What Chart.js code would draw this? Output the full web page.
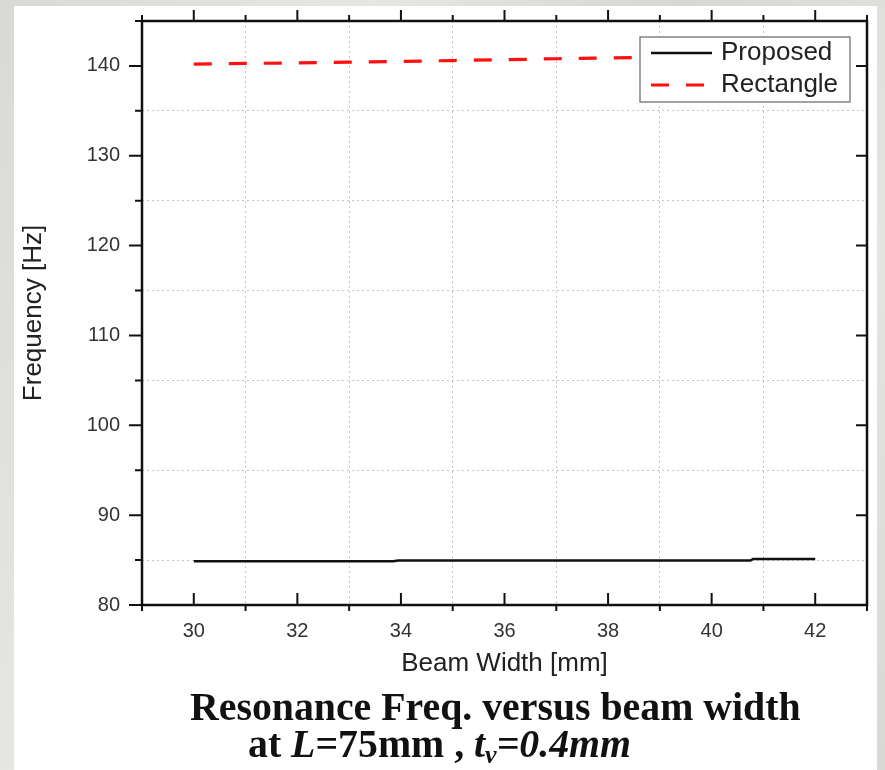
<!DOCTYPE html>
<html>
<head>
<meta charset="utf-8">
<script src="https://cdn.jsdelivr.net/npm/chart.js@4/dist/chart.umd.min.js"></script>
<style>
  html, body { margin: 0; padding: 0; }
  body {
    width: 885px; height: 770px; overflow: hidden; position: relative;
    background: linear-gradient(115deg, #d9d9d5 0%, #e6e6e2 30%, #d6d6d2 55%, #e4e4e0 80%, #d8d8d4 100%);
  }
  #panel { position: absolute; left: 14px; top: 6px; width: 863px; height: 764px; background: #fff; }
  #wrap { position: absolute; left: 0; top: 0; width: 885px; height: 690px; }
  .cap {
    position: absolute; font-family: "Liberation Serif", "Times New Roman", serif;
    font-weight: bold; font-size: 39.8px; color: #111; white-space: nowrap; line-height: 1;
  }
  .cap i { font-style: italic; }
  .cap sub { font-size: 26px; vertical-align: -6px; line-height: 0; }
</style>
</head>
<body>
<div id="panel"></div>
<div id="wrap"><canvas id="freqChart" width="885" height="690"></canvas></div>
<div class="cap" style="left:190px; top:688px;">Resonance Freq. versus beam width</div>
<div class="cap" style="left:248px; top:725px;">at <i>L</i>=75mm , <i>t<sub>v</sub>=0.4mm</i></div>

<script>
// beam width sweep [mm] and resonance frequency [Hz]
const rectWidth = [30, 31, 32, 33, 34, 35, 36, 37, 38, 39, 40, 41, 42];
const rectHz = [140.2, 140.28, 140.33, 140.43, 140.5, 140.6, 140.69, 140.8, 140.89, 140.95, 141.02, 141.1, 141.18];
const propWidth = [30, 33.85, 33.95, 40.75, 40.8, 42];
const propHz = [84.87, 84.87, 84.95, 84.95, 85.12, 85.12];
const seriesNames = ['Proposed', 'Rectangle'];

const FONT = '"Liberation Sans", Arial, sans-serif';

const toPoints = (xs, ys) => xs.map((v, i) => ({ x: v, y: ys[i] }));

// box frame with origin-style ticks (majors labelled, minors carry the grid)
const frameTicks = {
    id: 'frameTicks',
    afterDatasetsDraw(chart) {
        const { ctx, chartArea: a, scales: { x, y } } = chart;
        ctx.save();
        ctx.strokeStyle = '#111';
        ctx.lineWidth = 2.5;
        ctx.strokeRect(a.left, a.top, a.right - a.left, a.bottom - a.top);

        ctx.lineWidth = 2;
        ctx.beginPath();
        x.ticks.forEach(t => {
            const px = x.getPixelForValue(t.value);
            const major = t.value % 2 === 0;
            if (major) {
                ctx.moveTo(px, a.bottom); ctx.lineTo(px, a.bottom - 12);
                ctx.moveTo(px, a.top); ctx.lineTo(px, a.top - 11);
            } else {
                ctx.moveTo(px, a.bottom); ctx.lineTo(px, a.bottom + 6);
                ctx.moveTo(px, a.top); ctx.lineTo(px, a.top - 6);
            }
        });
        y.ticks.forEach(t => {
            const py = y.getPixelForValue(t.value);
            const major = t.value % 10 === 0;
            ctx.moveTo(a.left, py); ctx.lineTo(a.left - (major ? 13 : 7), py);
            if (major) { ctx.moveTo(a.right, py); ctx.lineTo(a.right - 11, py); }
        });
        ctx.stroke();

        // legend box in the upper right corner
        const bx = 640, by = 37, bw = 210, bh = 65;
        ctx.fillStyle = '#fff';
        ctx.fillRect(bx, by, bw, bh);
        ctx.strokeStyle = '#666';
        ctx.lineWidth = 1.2;
        ctx.strokeRect(bx, by, bw, bh);
        ctx.font = '26px ' + FONT;
        ctx.fillStyle = '#222';
        ctx.textBaseline = 'middle';
        chart.data.datasets.forEach((ds, i) => {
            const ly = by + 16 + i * 32;
            ctx.strokeStyle = ds.borderColor;
            ctx.lineWidth = ds.borderWidth;
            ctx.setLineDash(ds.borderDash || []);
            ctx.beginPath();
            ctx.moveTo(bx + 11, ly);
            ctx.lineTo(bx + 72, ly);
            ctx.stroke();
            ctx.setLineDash([]);
            ctx.fillText(ds.label, bx + 81, ly);
        });
        ctx.restore();
    }
};

new Chart(document.getElementById('freqChart'), {
    type: 'line',
    data: {
        datasets: [{
            label: seriesNames[0],
            data: toPoints(propWidth, propHz),
            borderColor: '#111',
            borderWidth: 2.5,
            pointRadius: 0,
            tension: 0
        }, {
            label: seriesNames[1],
            data: toPoints(rectWidth, rectHz),
            borderColor: '#ff1010',
            borderWidth: 3.2,
            borderDash: [18, 17],
            pointRadius: 0,
            tension: 0
        }]
    },
    options: {
        responsive: false,
        animation: false,
        layout: { padding: { left: 0, top: 21, right: 18, bottom: 0 } },
        plugins: { legend: { display: false }, tooltip: { enabled: false } },
        scales: {
            x: {
                type: 'linear',
                min: 29, max: 43,
                afterFit: s => { s.height = 85; },
                ticks: {
                    stepSize: 1,
                    autoSkip: false,
                    maxRotation: 0,
                    padding: 14,
                    color: '#333',
                    font: { family: FONT, size: 20 },
                    callback: v => (v % 2 === 0 && v > 29 && v < 43) ? String(v) : ''
                },
                grid: {
                    drawTicks: false,
                    lineWidth: 1,
                    color: c => (c.tick && c.tick.value % 2 === 1 && c.tick.value < 43) ? '#c4c4c4' : 'rgba(0,0,0,0)'
                },
                border: { display: false, dash: [2, 3] },
                title: {
                    display: true,
                    text: 'Beam Width [mm]',
                    color: '#222',
                    font: { family: FONT, size: 26 },
                    padding: { top: 0, bottom: 11 }
                }
            },
            y: {
                min: 80, max: 145,
                afterFit: s => { s.width = 142; s.paddingTop = 0; s.paddingBottom = 0; },
                ticks: {
                    stepSize: 5,
                    autoSkip: false,
                    padding: 22,
                    color: '#333',
                    font: { family: FONT, size: 20 },
                    callback: v => v % 10 === 0 ? String(v) : ''
                },
                grid: {
                    drawTicks: false,
                    lineWidth: 1,
                    color: c => (c.tick && c.tick.value % 10 === 5 && c.tick.value < 145) ? '#c4c4c4' : 'rgba(0,0,0,0)'
                },
                border: { display: false, dash: [2, 3] },
                title: {
                    display: true,
                    text: 'Frequency [Hz]',
                    color: '#222',
                    font: { family: FONT, size: 26 },
                    padding: { top: 18, bottom: 0 }
                }
            }
        }
    },
    plugins: [frameTicks]
});
</script>
</body>
</html>
